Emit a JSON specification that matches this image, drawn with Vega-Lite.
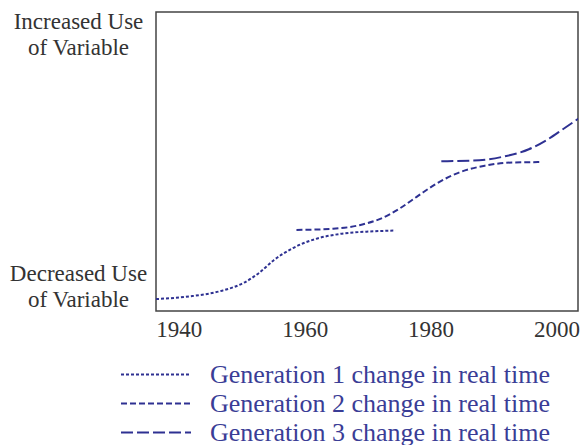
{
  "$schema": "https://vega.github.io/schema/vega-lite/v6.json",
  "width": 422,
  "height": 299,
  "autosize": {"type": "none"},
  "padding": {"left": 156, "top": 12, "right": 3, "bottom": 134},
  "background": "white",
  "config": {
    "view": {"stroke": "#444444", "strokeWidth": 1.5},
    "font": "Liberation Serif"
  },
  "data": {
    "values": [
      {"gen": "Generation 1 change in real time", "year": 1936.4, "value": 4.0},
      {"gen": "Generation 1 change in real time", "year": 1942.2, "value": 5.0},
      {"gen": "Generation 1 change in real time", "year": 1946.9, "value": 6.8},
      {"gen": "Generation 1 change in real time", "year": 1950.4, "value": 9.5},
      {"gen": "Generation 1 change in real time", "year": 1952.8, "value": 12.8},
      {"gen": "Generation 1 change in real time", "year": 1955.1, "value": 17.0},
      {"gen": "Generation 1 change in real time", "year": 1958.1, "value": 21.0},
      {"gen": "Generation 1 change in real time", "year": 1961.6, "value": 24.0},
      {"gen": "Generation 1 change in real time", "year": 1965.7, "value": 25.8},
      {"gen": "Generation 1 change in real time", "year": 1970.4, "value": 26.6},
      {"gen": "Generation 1 change in real time", "year": 1974.4, "value": 26.9},
      {"gen": "Generation 2 change in real time", "year": 1958.7, "value": 27.1},
      {"gen": "Generation 2 change in real time", "year": 1964.5, "value": 27.5},
      {"gen": "Generation 2 change in real time", "year": 1968.7, "value": 28.7},
      {"gen": "Generation 2 change in real time", "year": 1972.2, "value": 31.0},
      {"gen": "Generation 2 change in real time", "year": 1975.1, "value": 34.3},
      {"gen": "Generation 2 change in real time", "year": 1978.0, "value": 38.5},
      {"gen": "Generation 2 change in real time", "year": 1981.0, "value": 42.7},
      {"gen": "Generation 2 change in real time", "year": 1984.5, "value": 46.3},
      {"gen": "Generation 2 change in real time", "year": 1988.6, "value": 48.6},
      {"gen": "Generation 2 change in real time", "year": 1993.3, "value": 49.7},
      {"gen": "Generation 2 change in real time", "year": 1997.7, "value": 49.8},
      {"gen": "Generation 3 change in real time", "year": 1981.7, "value": 50.1},
      {"gen": "Generation 3 change in real time", "year": 1986.8, "value": 50.3},
      {"gen": "Generation 3 change in real time", "year": 1991.5, "value": 51.6},
      {"gen": "Generation 3 change in real time", "year": 1995.6, "value": 54.1},
      {"gen": "Generation 3 change in real time", "year": 1998.6, "value": 57.4},
      {"gen": "Generation 3 change in real time", "year": 2001.0, "value": 60.8},
      {"gen": "Generation 3 change in real time", "year": 2003.5, "value": 64.4}
    ]
  },
  "mark": {"type": "line", "interpolate": "monotone", "color": "#2e3192", "strokeWidth": 2, "clip": true},
  "encoding": {
    "x": {
      "field": "year", "type": "quantitative",
      "scale": {"domain": [1936.4, 2003.4], "nice": false, "zero": false},
      "axis": {
        "values": [1940, 1960, 1980, 2000], "format": "d", "title": null,
        "ticks": false, "domain": false, "grid": false, "labelFlush": false,
        "labelPadding": 7, "labelFontSize": 23, "labelColor": "#333333",
        "labelFont": "Liberation Serif"
      }
    },
    "y": {
      "field": "value", "type": "quantitative",
      "scale": {"domain": [0, 100], "nice": false},
      "axis": {
        "values": [12.7, 96.7], "title": null,
        "labelExpr": "datum.value > 50 ? ['Increased Use', 'of Variable'] : ['Decreased Use', 'of Variable']",
        "ticks": false, "domain": false, "grid": false, "labelFlush": false,
        "labelOverlap": false, "labelAlign": "center", "labelBaseline": "middle",
        "labelPadding": 78, "labelFontSize": 23, "labelLineHeight": 26,
        "labelColor": "#333333", "labelFont": "Liberation Serif"
      }
    },
    "strokeDash": {
      "field": "gen", "type": "nominal",
      "scale": {
        "domain": ["Generation 1 change in real time", "Generation 2 change in real time", "Generation 3 change in real time"],
        "range": [[3, 2], [6, 3], [12, 4]]
      },
      "legend": {
        "title": null, "orient": "none", "legendX": -36, "legendY": 348,
        "symbolType": "stroke", "symbolSize": 4900, "symbolStrokeWidth": 2,
        "symbolStrokeColor": "#2e3192", "clipHeight": 29, "rowPadding": 0,
        "labelOffset": 18, "labelFontSize": 26, "labelColor": "#3a3d96",
        "labelFont": "Liberation Serif", "labelLimit": 500
      }
    }
  }
}
